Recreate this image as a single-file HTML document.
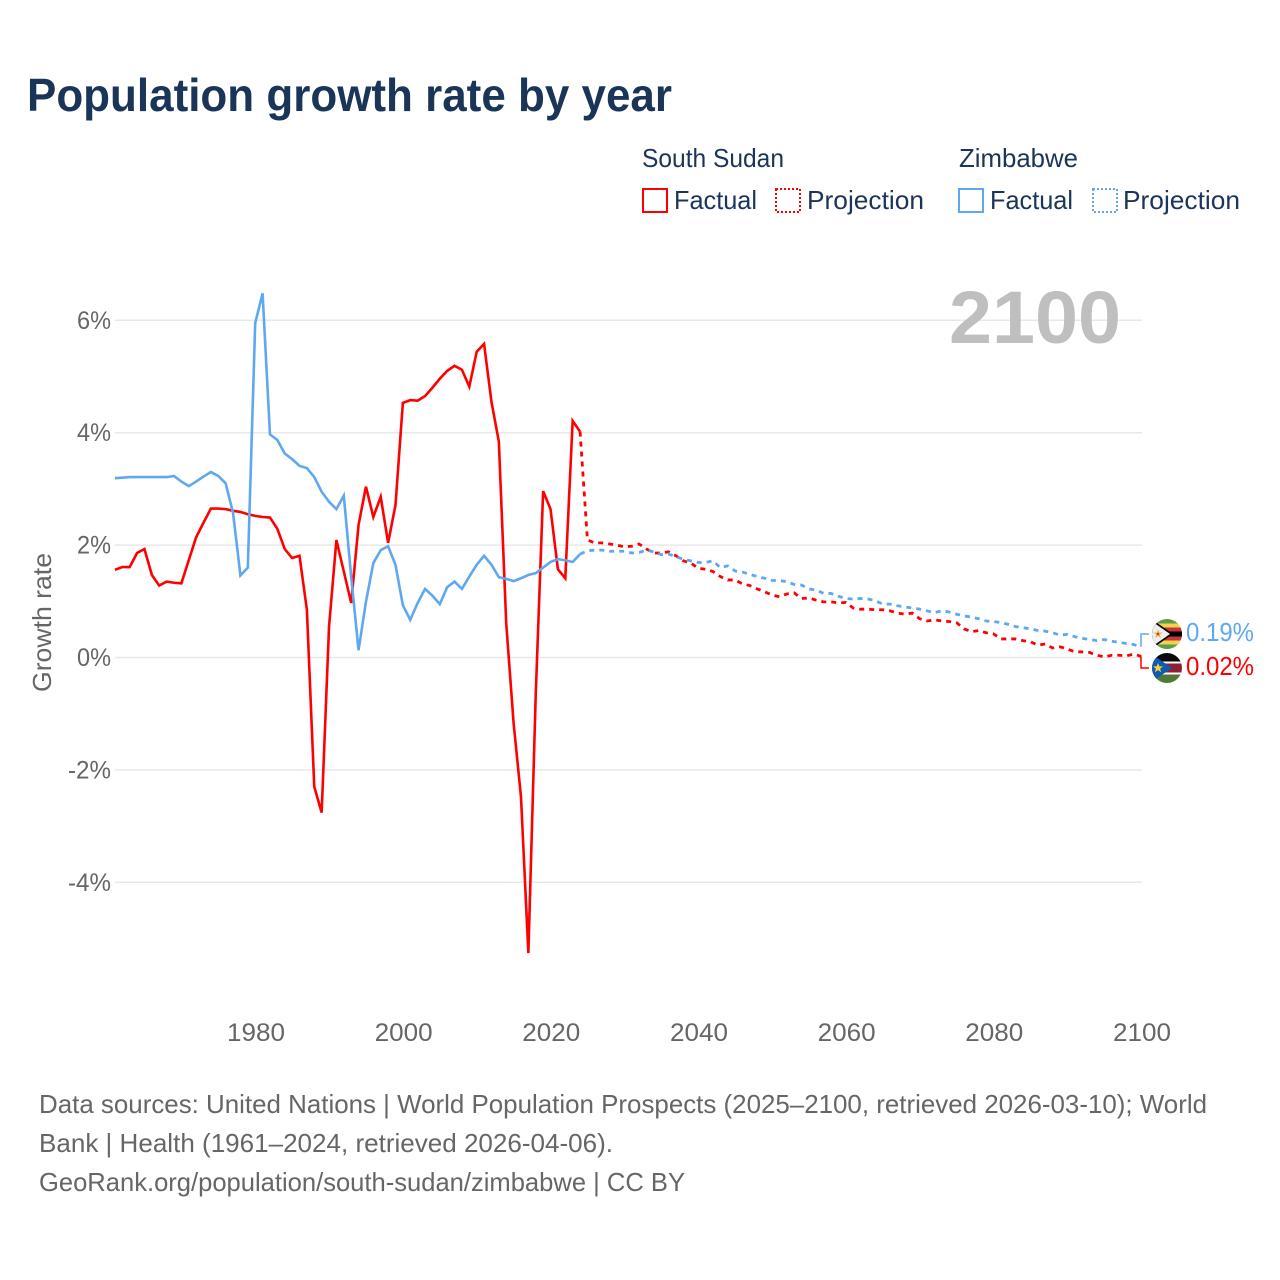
<!DOCTYPE html>
<html lang="en">
<head>
<meta charset="utf-8">
<title>Population growth rate by year</title>
<style>
  html, body { margin: 0; padding: 0; background: #fff; }
  svg { display: block; font-family: "Liberation Sans", sans-serif; }
</style>
</head>
<body>
<svg id="chart" xmlns="http://www.w3.org/2000/svg" width="1280" height="1280" viewBox="0 0 1280 1280">
  <rect width="1280" height="1280" fill="#ffffff"/>
  <text x="27" y="111" font-size="46" font-weight="700" fill="#1a3557" textLength="645" lengthAdjust="spacingAndGlyphs">Population growth rate by year</text>

  <g font-size="26" fill="#1a3557">
    <text x="642" y="167" textLength="142" lengthAdjust="spacingAndGlyphs">South Sudan</text>
    <text x="959" y="167" textLength="119" lengthAdjust="spacingAndGlyphs">Zimbabwe</text>
    <rect x="643" y="189" width="24" height="23" fill="none" stroke="#ff0000" stroke-width="2"/>
    <text x="674" y="209" textLength="83" lengthAdjust="spacingAndGlyphs">Factual</text>
    <rect x="776" y="189" width="24" height="23" fill="none" stroke="#ff0000" stroke-width="2" stroke-dasharray="2 2"/>
    <text x="807" y="209" textLength="117" lengthAdjust="spacingAndGlyphs">Projection</text>
    <rect x="959" y="189" width="24" height="23" fill="none" stroke="#5fa8f0" stroke-width="2"/>
    <text x="990" y="209" textLength="83" lengthAdjust="spacingAndGlyphs">Factual</text>
    <rect x="1093" y="189" width="24" height="23" fill="none" stroke="#5fa8f0" stroke-width="2" stroke-dasharray="2 2"/>
    <text x="1123" y="209" textLength="117" lengthAdjust="spacingAndGlyphs">Projection</text>
  </g>

  <g id="grid"></g>
  <g id="y-ticks"></g>
  <g id="x-ticks"></g>
  <text transform="translate(51,692) rotate(-90)" font-size="26" fill="#666666" textLength="139" lengthAdjust="spacingAndGlyphs">Growth rate</text>
  <text id="year-label" x="949" y="343" font-size="74" font-weight="700" fill="#bfbfbf" textLength="172" lengthAdjust="spacingAndGlyphs">2100</text>

  <g id="series"></g>
  <g id="connectors"></g>

  <defs>
    <clipPath id="flag-clip-zw"><circle cx="1167" cy="634" r="15"/></clipPath>
    <clipPath id="flag-clip-ss"><circle cx="1167" cy="668" r="15"/></clipPath>
  </defs>
  <g clip-path="url(#flag-clip-zw)">
    <rect x="1152" y="619" width="30" height="30" fill="#5d9c48"/>
    <rect x="1152" y="623.5" width="30" height="21" fill="#f2d24e"/>
    <rect x="1152" y="627.5" width="30" height="13" fill="#c9333a"/>
    <rect x="1152" y="631.5" width="30" height="5" fill="#000000"/>
    <polygon points="1150,618 1173,634 1150,650" fill="#000000"/>
    <polygon points="1150,620 1170,634 1150,648" fill="#eeeeee"/>
    <polygon points="1158,629.5 1159.2,632.6 1162.5,632.6 1159.8,634.7 1160.8,638 1158,636 1155.2,638 1156.2,634.7 1153.5,632.6 1156.8,632.6" fill="#e9b43c"/>
    <circle cx="1158" cy="634" r="1.2" fill="#c9333a"/>
  </g>
  <g clip-path="url(#flag-clip-ss)">
    <rect x="1152" y="653" width="30" height="10" fill="#0a0a0a"/>
    <rect x="1152" y="663" width="30" height="10" fill="#8e2035"/>
    <rect x="1152" y="673" width="30" height="10" fill="#4f7a35"/>
    <rect x="1152" y="661.5" width="30" height="2" fill="#ffffff"/>
    <rect x="1152" y="672.5" width="30" height="2" fill="#ffffff"/>
    <polygon points="1150,653 1172,668 1150,683" fill="#0f5bb0"/>
    <polygon points="1158,663 1159.4,666.4 1163,666.4 1160.1,668.7 1161.2,672.2 1158,670.1 1154.8,672.2 1155.9,668.7 1153,666.4 1156.6,666.4" fill="#f5d53a"/>
  </g>
  <text x="1186" y="641" font-size="26" fill="#5fa8f0" textLength="68" lengthAdjust="spacingAndGlyphs">0.19%</text>
  <text x="1186" y="675" font-size="26" fill="#ff0000" textLength="68" lengthAdjust="spacingAndGlyphs">0.02%</text>

  <g font-size="26" fill="#666666">
    <text x="39" y="1113" textLength="1168" lengthAdjust="spacingAndGlyphs">Data sources: United Nations | World Population Prospects (2025–2100, retrieved 2026-03-10); World</text>
    <text x="39" y="1152" textLength="574" lengthAdjust="spacingAndGlyphs">Bank | Health (1961–2024, retrieved 2026-04-06).</text>
    <text x="39" y="1191" textLength="646" lengthAdjust="spacingAndGlyphs">GeoRank.org/population/south-sudan/zimbabwe | CC BY</text>
  </g>
</svg>

<script>
const factualStartYear = 1961;
const projectionStartYear = 2025;
const yTickValues = [6, 4, 2, 0, -2, -4];
const yTickLabels = ["6%", "4%", "2%", "0%", "-2%", "-4%"];
const xTickValues = [1980, 2000, 2020, 2040, 2060, 2080, 2100];
const xTickLabels = ["1980", "2000", "2020", "2040", "2060", "2080", "2100"];

const southSudanFactual = [
  1.56, 1.61, 1.61, 1.86, 1.93, 1.47, 1.28, 1.35, 1.33, 1.32,
  1.73, 2.14, 2.40, 2.65, 2.65, 2.64, 2.61, 2.59, 2.55, 2.52,
  2.50, 2.49, 2.29, 1.93, 1.77, 1.81, 0.85, -2.30, -2.76, 0.55,
  2.09, 1.53, 0.97, 2.36, 3.04, 2.50, 2.86, 2.04, 2.71, 4.53,
  4.58, 4.57, 4.65, 4.80, 4.96, 5.10, 5.19, 5.12, 4.82, 5.44,
  5.58, 4.55, 3.84, 0.61, -1.17, -2.48, -5.26, -0.65, 2.96, 2.64,
  1.57, 1.41, 4.21, 4.02
];
const southSudanProjection = [
  2.09, 2.04, 2.04, 2.02, 2.00, 1.97, 1.98, 2.02, 1.93, 1.86,
  1.86, 1.88, 1.81, 1.72, 1.68, 1.59, 1.57, 1.53, 1.44, 1.38,
  1.38, 1.31, 1.28, 1.22, 1.17, 1.11, 1.08, 1.13, 1.15, 1.05,
  1.06, 1.02, 0.99, 0.99, 0.97, 0.98, 0.88, 0.86, 0.86, 0.85,
  0.85, 0.83, 0.79, 0.77, 0.79, 0.69, 0.65, 0.67, 0.65, 0.64,
  0.62, 0.51, 0.46, 0.48, 0.44, 0.42, 0.33, 0.33, 0.33, 0.30,
  0.28, 0.22, 0.24, 0.17, 0.19, 0.15, 0.10, 0.10, 0.09, 0.04,
  0.01, 0.04, 0.04, 0.03, 0.06, 0.02
];
const zimbabweFactual = [
  3.19, 3.20, 3.21, 3.21, 3.21, 3.21, 3.21, 3.21, 3.23, 3.13,
  3.05, 3.13, 3.22, 3.30, 3.23, 3.10, 2.57, 1.46, 1.60, 5.95,
  6.48, 3.97, 3.87, 3.63, 3.53, 3.41, 3.37, 3.21, 2.95, 2.77,
  2.64, 2.88, 1.44, 0.13, 0.99, 1.68, 1.91, 1.98, 1.65, 0.93,
  0.67, 0.97, 1.22, 1.10, 0.95, 1.25, 1.35, 1.22, 1.44, 1.65,
  1.81, 1.65, 1.43, 1.40, 1.36, 1.41, 1.47, 1.50, 1.60, 1.70,
  1.75, 1.73, 1.70, 1.84
];
const zimbabweProjection = [
  1.90, 1.91, 1.91, 1.89, 1.89, 1.89, 1.86, 1.87, 1.91, 1.88,
  1.83, 1.84, 1.79, 1.75, 1.72, 1.69, 1.69, 1.72, 1.60, 1.63,
  1.54, 1.52, 1.48, 1.44, 1.41, 1.37, 1.37, 1.35, 1.30, 1.29,
  1.22, 1.20, 1.14, 1.14, 1.09, 1.05, 1.04, 1.05, 1.04, 1.01,
  0.95, 0.95, 0.92, 0.90, 0.88, 0.86, 0.83, 0.80, 0.83, 0.81,
  0.77, 0.74, 0.72, 0.69, 0.65, 0.64, 0.62, 0.59, 0.55, 0.53,
  0.51, 0.48, 0.47, 0.44, 0.40, 0.41, 0.37, 0.34, 0.32, 0.30,
  0.32, 0.29, 0.27, 0.25, 0.23, 0.19
];

const SVG_NS = "http://www.w3.org/2000/svg";
const RED = "#ff0000";
const BLUE = "#5fa8f0";

function xScale(year) { return 255.2 + (year - 1980) * 7.383; }
function yScale(value) { return 657.5 - value * 56.2; }

function make(tag, attrs, parent) {
  const el = document.createElementNS(SVG_NS, tag);
  for (const key in attrs) el.setAttribute(key, attrs[key]);
  parent.appendChild(el);
  return el;
}

const gridGroup = document.getElementById("grid");
const yTickGroup = document.getElementById("y-ticks");
yTickValues.forEach(function (value, i) {
  const line = make("line", { x1: 115, x2: 1142, y1: yScale(value), y2: yScale(value), stroke: "#e8e8e8", "stroke-width": 1.5 }, gridGroup);
  
  
  const label = make("text", { x: 111, y: yScale(value) + 8.5, "text-anchor": "end", "font-size": 25, fill: "#666666", textLength: yTickLabels[i].length > 2 ? 43 : 34, lengthAdjust: "spacingAndGlyphs" }, yTickGroup);
  label.textContent = yTickLabels[i];
  
  
});

const xTickGroup = document.getElementById("x-ticks");
xTickValues.forEach(function (year, i) {
  const label = make("text", { x: xScale(year) + 0.8, y: 1041, "text-anchor": "middle", "font-size": 25, fill: "#666666", textLength: 58, lengthAdjust: "spacingAndGlyphs" }, xTickGroup);
  label.textContent = xTickLabels[i];
  
  
});

function pointsFrom(values, startYear) {
  return values.map(function (value, i) {
    return xScale(startYear + i).toFixed(2) + "," + yScale(value).toFixed(2);
  });
}

const seriesGroup = document.getElementById("series");
function drawSeries(factual, projection, color) {
  const factualPoints = pointsFrom(factual, factualStartYear);
  const lastFactual = factualPoints[factualPoints.length - 1];
  const projectionPoints = [lastFactual].concat(pointsFrom(projection, projectionStartYear));
  const solid = make("polyline", { points: factualPoints.join(" "), fill: "none", stroke: color, "stroke-width": 2.6, "stroke-linejoin": "miter" }, seriesGroup);
  
  
  const dashed = make("polyline", { points: projectionPoints.join(" "), fill: "none", stroke: color, "stroke-width": 2.8, "stroke-dasharray": "5 5" }, seriesGroup);
  
  
}
drawSeries(southSudanFactual, southSudanProjection, RED);
drawSeries(zimbabweFactual, zimbabweProjection, BLUE);

const connectorGroup = document.getElementById("connectors");
function drawConnector(value, labelY, color) {
  const d = "M1141 " + yScale(value).toFixed(2) + " V" + labelY + " H1149";
  const path = make("path", { d: d, fill: "none", stroke: color, "stroke-width": 1.5 }, connectorGroup);
  
  
}
drawConnector(zimbabweProjection[zimbabweProjection.length - 1], 634, BLUE);
drawConnector(southSudanProjection[southSudanProjection.length - 1], 668, RED);
</script>
</body>
</html>
